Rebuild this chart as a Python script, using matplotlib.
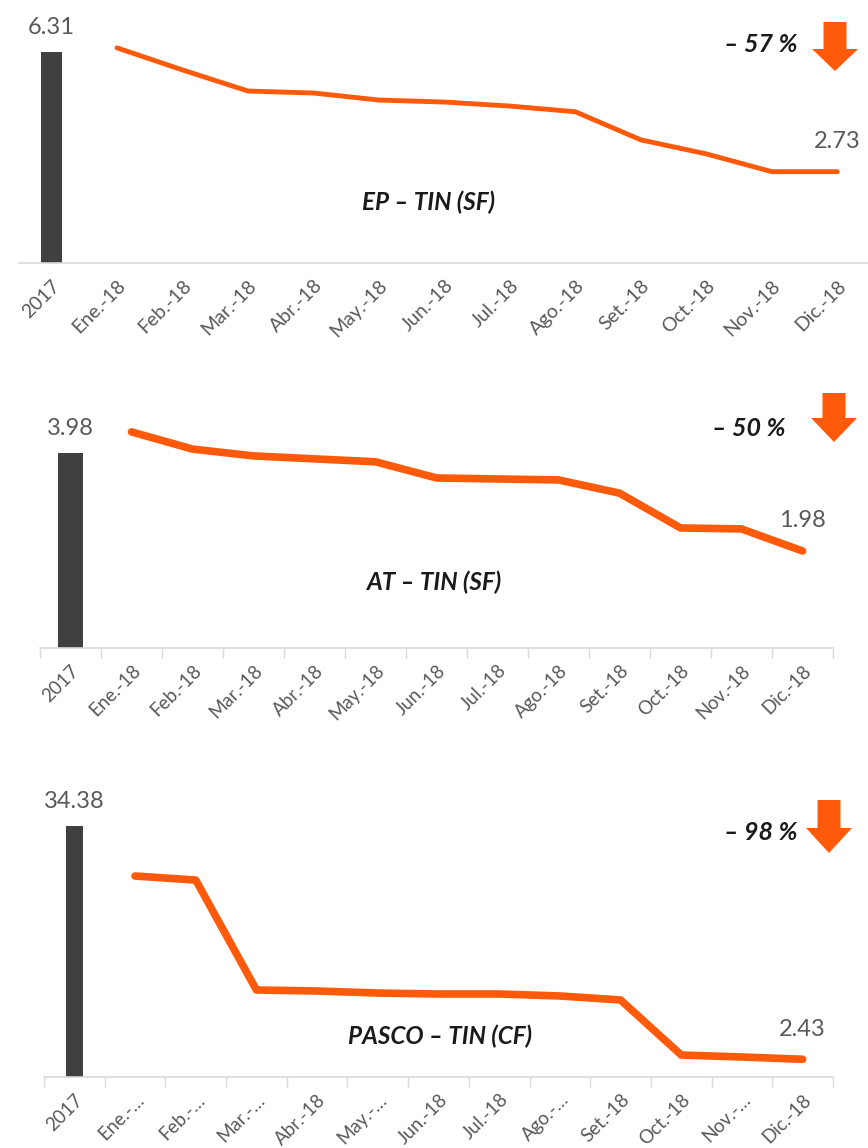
import matplotlib
matplotlib.use("Agg")
import matplotlib.pyplot as plt
from matplotlib.patches import Polygon

W, H = 868, 1148
plt.rcParams['font.family'] = ['Lato', 'DejaVu Sans']

months = ["Ene.-18", "Feb.-18", "Mar.-18", "Abr.-18", "May.-18", "Jun.-18",
          "Jul.-18", "Ago.-18", "Set.-18", "Oct.-18", "Nov.-18", "Dic.-18"]
labels3 = ["Ene.-…", "Feb.-…", "Mar.-…", "Abr.-18", "May.-…", "Jun.-18",
           "Jul.-18", "Ago.-…", "Set.-18", "Oct.-18", "Nov.-…", "Dic.-18"]
base_label = "2017"

ep_2017 = 6.31
ep_2018 = [6.43, 5.77, 5.14, 5.08, 4.87, 4.81, 4.69, 4.52, 3.68, 3.26, 2.73, 2.73]
at_2017 = 3.98
at_2018 = [4.41, 4.06, 3.92, 3.86, 3.80, 3.47, 3.45, 3.43, 3.16, 2.45, 2.43, 1.98]
pa_2017 = 34.38
pa_2018 = [27.53, 26.98, 11.92, 11.78, 11.50, 11.37, 11.37, 11.10, 10.55, 3.01, 2.74, 2.43]

titles = ["EP – TIN (SF)", "AT – TIN (SF)", "PASCO – TIN (CF)"]
changes = ["– 57 %", "– 50 %", "– 98 %"]

ORANGE = "#FF5A0A"
BAR = "#404040"
GRAY = "#595959"
SPINE = "#D9D9D9"

fig = plt.figure(figsize=(W / 100, H / 100), dpi=100)


def px_axes(left, right, top, bottom):
    return fig.add_axes([left / W, 1 - bottom / H, (right - left) / W, (bottom - top) / H])


def fig_xy(x, y):
    return x / W, 1 - y / H


def arrow(cx, ytop, ybot, ystart_head):
    sw, hw = 11.5, 23
    pts = [(cx - sw, ytop), (cx + sw, ytop), (cx + sw, ystart_head), (cx + hw, ystart_head),
           (cx, ybot), (cx - hw, ystart_head), (cx - sw, ystart_head)]
    pts = [fig_xy(x, y) for x, y in pts]
    fig.patches.append(Polygon(pts, closed=True, transform=fig.transFigure,
                               facecolor=ORANGE, edgecolor='none'))


panels = [
    dict(ax=(18.75, 870, 0, 263), ymax=7.86, base=ep_2017, vals=ep_2018, bw=0.32, lw=3.5,
         labels=months, ticks=False, fs=14, title_xy=(429, 202), chg_xy=(797, 45),
         arr=(835, 22, 71, 49)),
    dict(ax=(40, 833, 375, 648), ymax=273 / 49.0, base=at_2017, vals=at_2018, bw=0.41, lw=5.5,
         labels=months, ticks=True, fs=13.5, title_xy=(435, 582), chg_xy=(785, 428),
         arr=(834, 393, 442, 418)),
    dict(ax=(44, 833, 775, 1077), ymax=302 / 7.3, base=pa_2017, vals=pa_2018, bw=0.28, lw=5.5,
         labels=labels3, ticks=True, fs=13.5, title_xy=(440, 1036), chg_xy=(797, 832),
         arr=(829, 800, 853, 828)),
]

for p, title, chg in zip(panels, titles, changes):
    ax = px_axes(*p['ax'])
    n = len(p['vals'])
    xs = list(range(1, n + 1))
    ax.bar([0], [p['base']], width=p['bw'], color=BAR, zorder=2)
    ax.plot(xs, p['vals'], color=ORANGE, lw=p['lw'], solid_capstyle='round',
            solid_joinstyle='round', zorder=3)
    ax.set_xlim(-0.5, n + 0.5)
    ax.set_ylim(0, p['ymax'])
    for s in ['top', 'right', 'left']:
        ax.spines[s].set_visible(False)
    ax.spines['bottom'].set_color(SPINE)
    ax.spines['bottom'].set_linewidth(1.2)
    ax.set_yticks([])
    ax.set_xticks(range(n + 1))
    ax.set_xticklabels([base_label] + p['labels'], rotation=45, ha='right',
                       rotation_mode='anchor', fontsize=p['fs'], color=GRAY)
    ax.tick_params(axis='x', which='major', length=0, pad=10)
    if p['ticks']:
        ax.set_xticks([i - 0.5 for i in range(n + 2)], minor=True)
        ax.tick_params(axis='x', which='minor', length=7, color=SPINE, width=1)
    ax.set_facecolor('none')
    # value labels
    ax.annotate(f"{p['base']:.2f}", (0, p['base']), xytext=(0, 13), textcoords='offset points',
                ha='center', va='baseline', fontsize=17, color=GRAY)
    ax.annotate(f"{p['vals'][-1]:.2f}", (n, p['vals'][-1]), xytext=(0, 17),
                textcoords='offset points', ha='center', va='baseline', fontsize=17, color=GRAY)
    tx, ty = fig_xy(*p['title_xy'])
    fig.text(tx, ty, title, ha='center', va='center', fontsize=17.5, fontweight='bold',
             fontstyle='italic', color='#1A1A1A')
    cx, cy = fig_xy(*p['chg_xy'])
    fig.text(cx, cy, chg, ha='right', va='center', fontsize=18, fontweight='bold',
             fontstyle='italic', color='#1A1A1A')
    arrow(*p['arr'])

fig.savefig("out.png", dpi=100, facecolor='white')
